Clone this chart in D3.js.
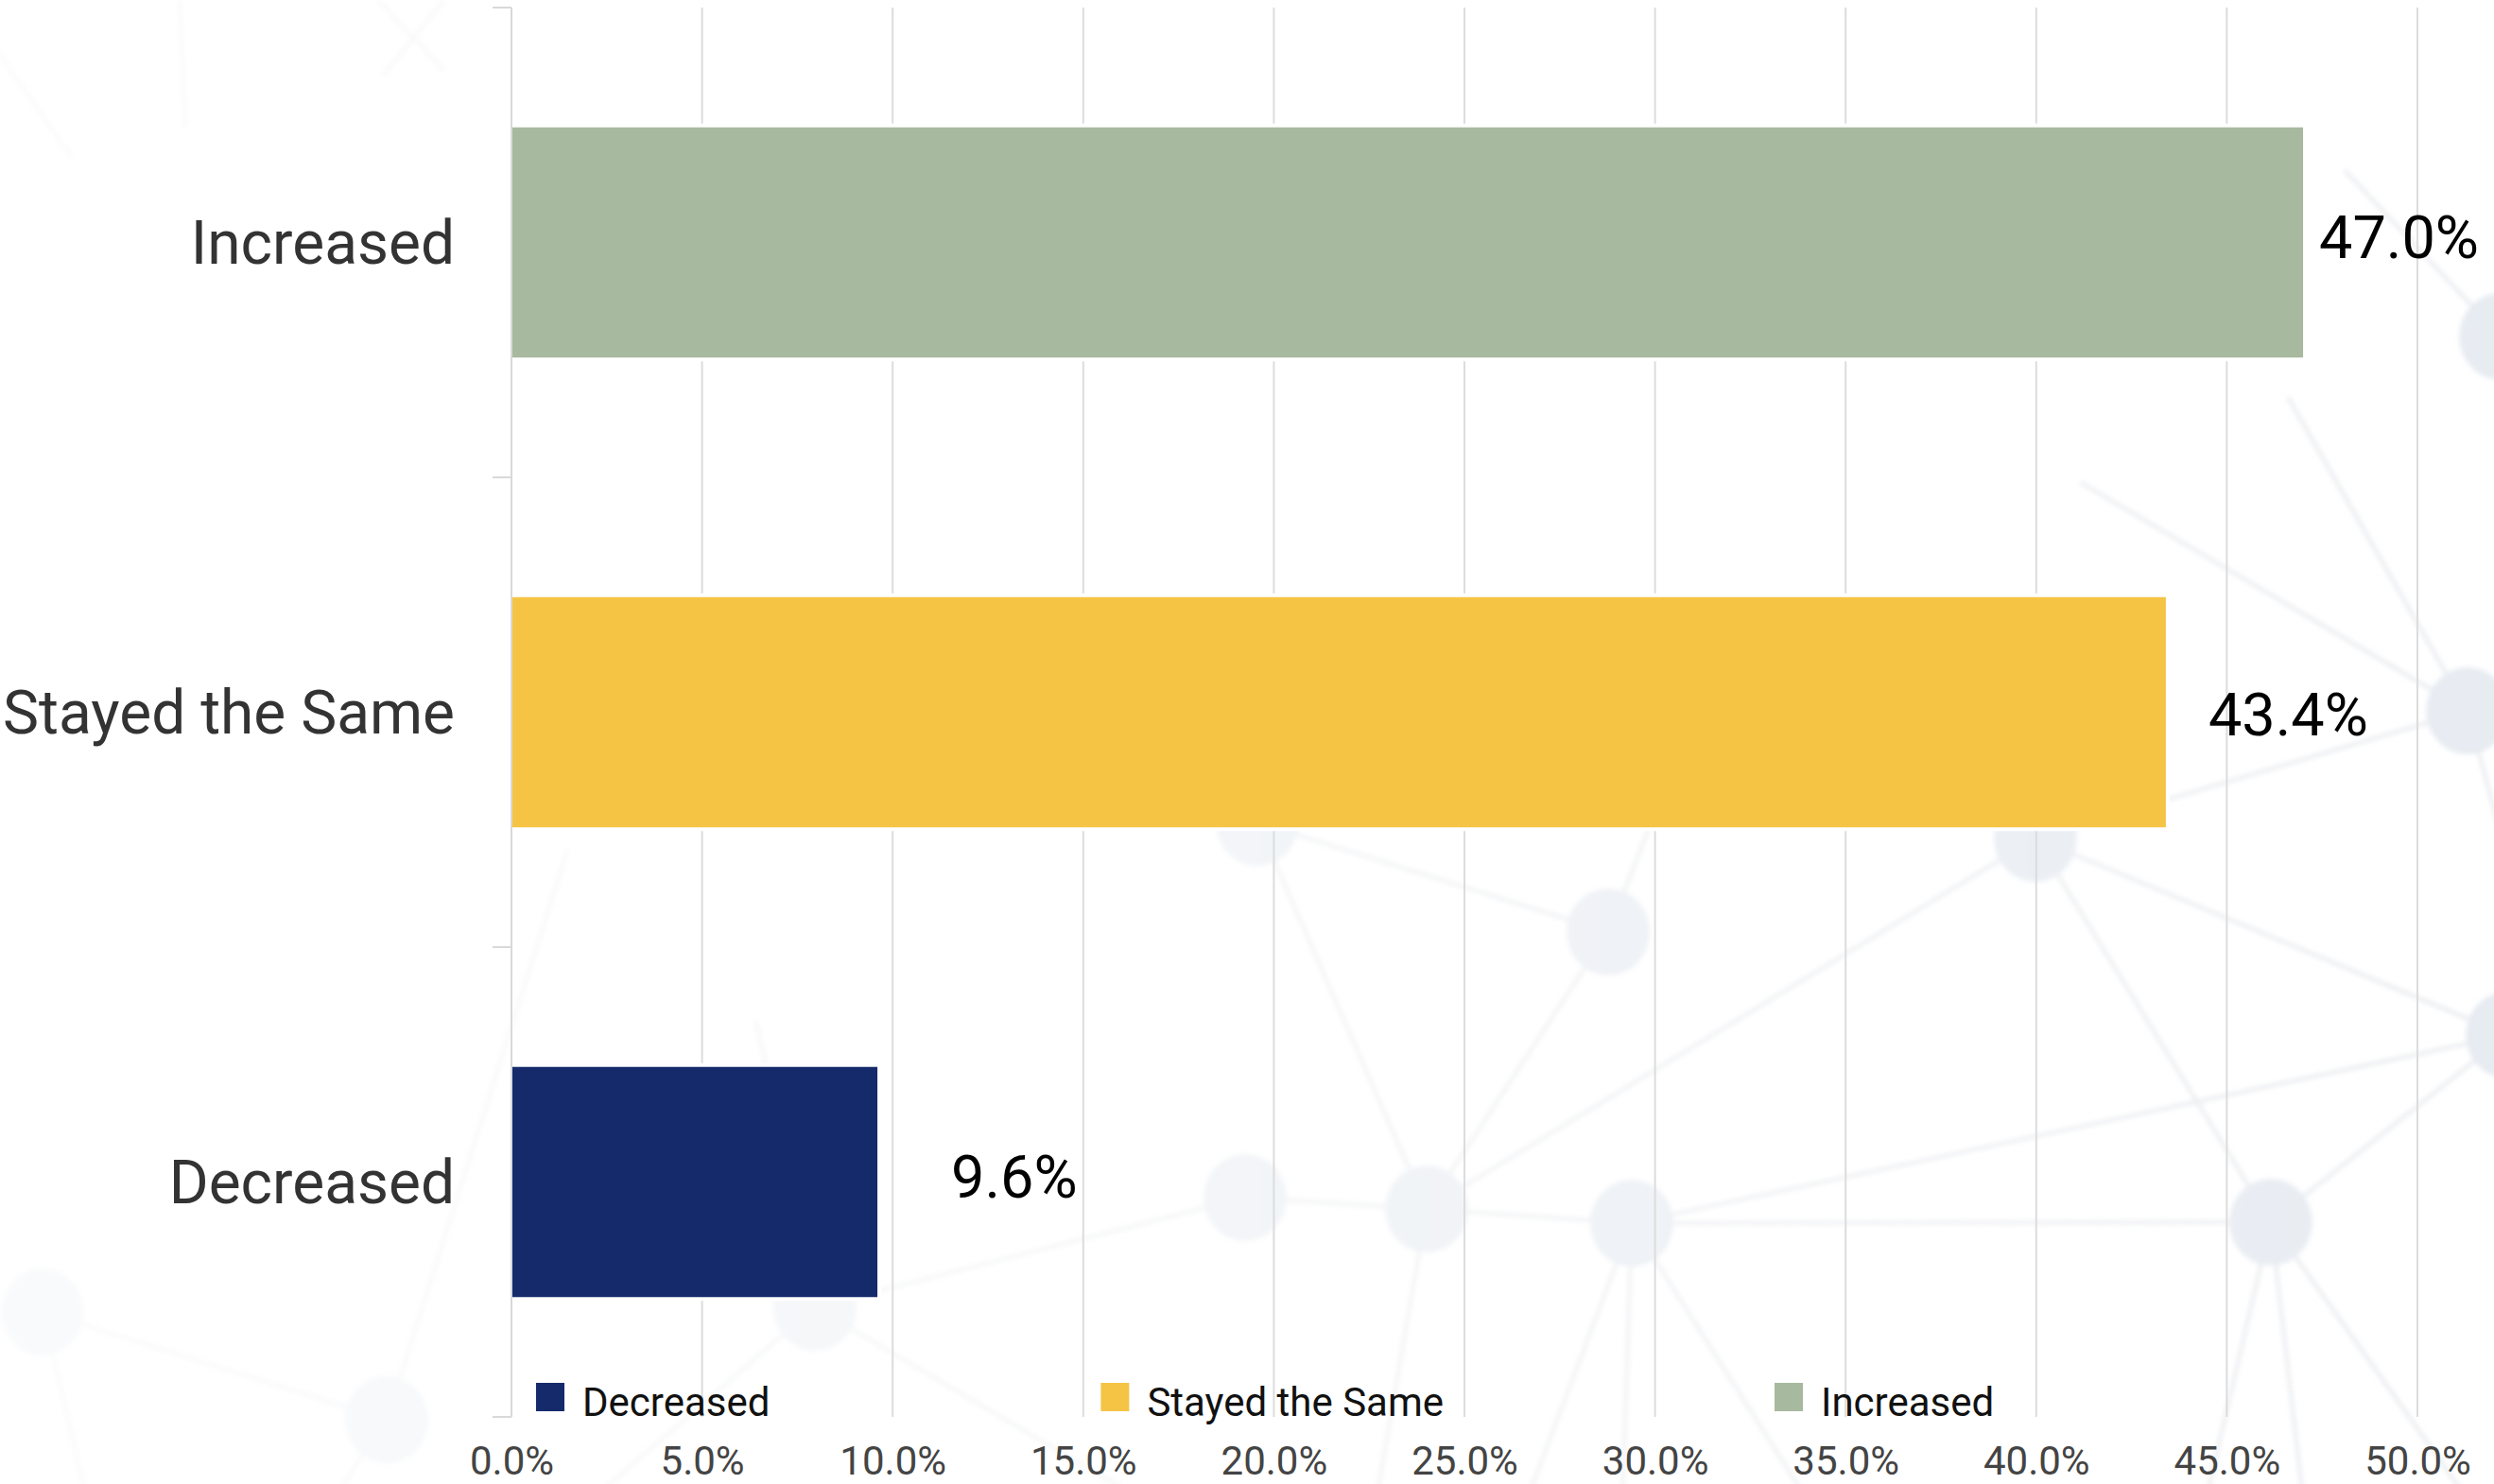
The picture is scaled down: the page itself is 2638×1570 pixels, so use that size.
<!DOCTYPE html>
<html>
<head>
<meta charset="utf-8">
<script src="https://cdn.jsdelivr.net/npm/d3@7"></script>
<style>
  html, body { margin: 0; padding: 0; background: #ffffff; }
  svg { display: block; }
</style>
</head>
<body>
<svg id="chart" width="2638" height="1570"></svg>
<script>
// Survey categories, top to bottom
const categories = ["Increased", "Stayed the Same", "Decreased"];
// Share of respondents (%)
const values = [47.0, 43.4, 9.6];
// Value labels as printed on the chart
const valueLabels = ["47.0%", "43.4%", "9.6%"];
// Legend order
const legendOrder = ["Decreased", "Stayed the Same", "Increased"];
// Horizontal axis ticks (%)
const xTicks = [0, 5, 10, 15, 20, 25, 30, 35, 40, 45, 50];
const xTickLabels = ["0.0%", "5.0%", "10.0%", "15.0%", "20.0%", "25.0%", "30.0%", "35.0%", "40.0%", "45.0%", "50.0%"];

// Decorative network pattern in the backdrop
const bgNodes = [
  [1701, 986], [1509, 1279], [1726, 1294], [1317, 1267], [2402, 1293],
  [2652, 1095], [2153, 887], [2610, 752], [2645, 356], [409, 1502],
  [45, 1388], [862, 1383], [1330, 870]
];
const bgLinks = [
  [[1330, 870], [1509, 1279]], [[1330, 870], [1701, 986]], [[1701, 986], [1509, 1279]],
  [[1701, 986], [1790, 760]], [[1509, 1279], [2153, 887]], [[2153, 887], [2402, 1293]],
  [[2153, 887], [2652, 1095]], [[1726, 1294], [2652, 1095]], [[1726, 1294], [2402, 1293]],
  [[2402, 1293], [2652, 1095]], [[1317, 1267], [1509, 1279]], [[1509, 1279], [1726, 1294]],
  [[1726, 1294], [1610, 1600]], [[1726, 1294], [1715, 1620]], [[1726, 1294], [1920, 1600]],
  [[2402, 1293], [2330, 1600]], [[2402, 1293], [2440, 1620]], [[2402, 1293], [2620, 1600]],
  [[1509, 1279], [1450, 1620]], [[862, 1383], [1230, 1600]], [[862, 1383], [610, 1600]],
  [[862, 1383], [1317, 1267]], [[862, 1383], [800, 1080]], [[409, 1502], [45, 1388]],
  [[409, 1502], [600, 900]], [[409, 1502], [330, 1620]], [[45, 1388], [100, 1620]],
  [[2610, 752], [2420, 420]], [[2610, 752], [2200, 510]], [[2610, 752], [2153, 887]],
  [[2610, 752], [2650, 900]], [[2645, 356], [2480, 180]],
  [[-20, 30], [75, 165]], [[190, 0], [196, 135]], [[400, 0], [470, 75]], [[470, 0], [405, 80]]
];

const W = 2638, H = 1570;
const svg = d3.select("#chart");

// plot frame
const plotLeft = 541, plotRight = 2557, plotTop = 8, plotBottom = 1499;

const x = d3.scaleLinear().domain([0, 50]).range([plotLeft, plotRight]);
const y = d3.scaleBand().domain(categories).range([plotTop, plotBottom]).paddingInner(0).paddingOuter(0);
const barFrac = 0.49;

const colors = {
  "Increased": "#a7b99e",
  "Stayed the Same": "#f5c445",
  "Decreased": "#142a6b"
};

// ---- backdrop network (fades out toward the left) ----
const defs = svg.append("defs");
defs.append("filter").attr("id", "soft").attr("x", "-20%").attr("y", "-20%").attr("width", "140%").attr("height", "140%")
  .append("feGaussianBlur").attr("stdDeviation", 2.5);
const fadeGrad = defs.append("linearGradient").attr("id", "fadeGrad")
  .attr("gradientUnits", "userSpaceOnUse")
  .attr("x1", 0).attr("y1", 0).attr("x2", W).attr("y2", 0);
fadeGrad.append("stop").attr("offset", "0%").attr("stop-color", "#fff").attr("stop-opacity", 0.2);
fadeGrad.append("stop").attr("offset", "45%").attr("stop-color", "#fff").attr("stop-opacity", 0.4);
fadeGrad.append("stop").attr("offset", "100%").attr("stop-color", "#fff").attr("stop-opacity", 0.85);
defs.append("mask").attr("id", "fadeMask")
  .attr("maskUnits", "userSpaceOnUse").attr("x", 0).attr("y", 0).attr("width", W).attr("height", H)
  .append("rect").attr("width", W).attr("height", H).attr("fill", "url(#fadeGrad)");

const bg = svg.append("g").attr("mask", "url(#fadeMask)")
  .append("g").attr("filter", "url(#soft)");
bg.selectAll("line").data(bgLinks).join("line")
  .attr("x1", d => d[0][0]).attr("y1", d => d[0][1])
  .attr("x2", d => d[1][0]).attr("y2", d => d[1][1])
  .attr("stroke", "#e6e8ec").attr("stroke-width", 4);
bg.selectAll("ellipse").data(bgNodes).join("ellipse")
  .attr("cx", d => d[0]).attr("cy", d => d[1])
  .attr("rx", 44).attr("ry", 46)
  .attr("fill", "#e3e8ef");

// ---- gridlines ----
svg.append("g").selectAll("line").data(xTicks).join("line")
  .attr("x1", d => x(d)).attr("x2", d => x(d))
  .attr("y1", plotTop).attr("y2", plotBottom)
  .attr("stroke", "#dcdcdc").attr("stroke-width", 2);

// ---- bars: white halo first, then the fills ----
const barY = d => y(d) + y.bandwidth() * (1 - barFrac) / 2;
svg.append("g").selectAll("rect").data(categories).join("rect")
  .attr("x", x(0))
  .attr("y", barY)
  .attr("width", (d, i) => x(values[i]) - x(0))
  .attr("height", y.bandwidth() * barFrac)
  .attr("fill", "#ffffff")
  .attr("stroke", "#ffffff").attr("stroke-width", 8);
svg.append("g").selectAll("rect").data(categories).join("rect")
  .attr("x", x(0))
  .attr("y", barY)
  .attr("width", (d, i) => x(values[i]) - x(0))
  .attr("height", y.bandwidth() * barFrac)
  .attr("fill", d => colors[d]);

// ---- category axis ----
const yAxis = svg.append("g");
yAxis.append("line")
  .attr("x1", plotLeft).attr("x2", plotLeft)
  .attr("y1", plotTop).attr("y2", plotBottom)
  .attr("stroke", "#d9d9d9").attr("stroke-width", 2);
const boundaries = categories.map(c => y(c)).concat([plotBottom]);
yAxis.selectAll("line.tick").data(boundaries).join("line")
  .attr("class", "tick")
  .attr("x1", plotLeft - 20).attr("x2", plotLeft)
  .attr("y1", d => d).attr("y2", d => d)
  .attr("stroke", "#d9d9d9").attr("stroke-width", 2);
yAxis.selectAll("text").data(categories).join("text")
  .attr("x", plotLeft - 60)
  .attr("y", d => y(d) + y.bandwidth() / 2)
  .attr("dy", "0.355em")
  .attr("text-anchor", "end")
  .attr("font-family", "Roboto, sans-serif")
  .attr("font-size", 64)
  .attr("fill", "#333333")
  .text(d => d);

// ---- value labels (hand-nudged placement per bar) ----
const labelNudge = {
  "Increased": { dx: 17, dy: -6 },
  "Stayed the Same": { dx: 45, dy: 2 },
  "Decreased": { dx: 78, dy: -6 }
};
svg.append("g").selectAll("text").data(categories).join("text")
  .attr("x", (d, i) => x(values[i]) + labelNudge[d].dx)
  .attr("y", d => y(d) + y.bandwidth() / 2 + labelNudge[d].dy)
  .attr("dy", "0.355em")
  .attr("font-family", "Roboto, sans-serif")
  .attr("font-size", 63)
  .attr("fill", "#000000")
  .text((d, i) => valueLabels[i]);

// ---- value axis ----
const xAxis = d3.axisBottom(x)
  .tickValues(xTicks)
  .tickFormat((d, i) => xTickLabels[i])
  .tickSize(0);
const xg = svg.append("g").attr("transform", `translate(0,${plotBottom})`).call(xAxis);
xg.select(".domain").remove();
xg.selectAll("text")
  .attr("y", 61)
  .attr("dy", 0)
  .attr("font-family", "Roboto, sans-serif")
  .attr("font-size", 42)
  .attr("fill", "#444444");

// ---- legend: items spread evenly between a first and last swatch ----
const legendStart = 567, legendLastSwatch = 1877, swatch = 30, swatchGap = 19;
const legend = svg.append("g").attr("font-family", "Roboto, sans-serif").attr("font-size", 42);
const items = legendOrder.map(name => {
  const g = legend.append("g");
  g.append("rect")
    .attr("y", 1463)
    .attr("width", swatch).attr("height", swatch)
    .attr("fill", colors[name]);
  const t = g.append("text")
    .attr("x", swatch + swatchGap).attr("y", 1498)
    .attr("fill", "#111111")
    .text(name);
  return { g, w: swatch + swatchGap + t.node().getComputedTextLength() };
});
const spanBefore = d3.sum(items.slice(0, -1), d => d.w);
const between = (legendLastSwatch - legendStart - spanBefore) / (items.length - 1);
let lx = legendStart;
items.forEach(it => {
  it.g.attr("transform", `translate(${lx},0)`);
  lx += it.w + between;
});
</script>
</body>
</html>
